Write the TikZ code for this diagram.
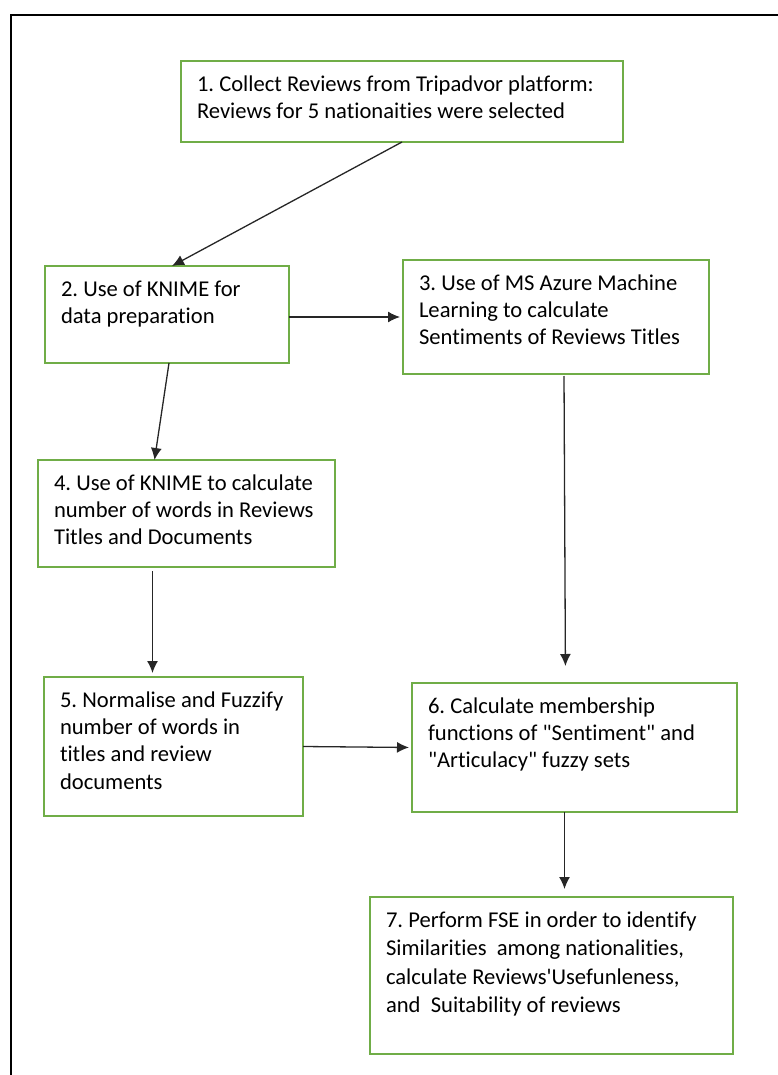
\documentclass[tikz,border=0pt]{standalone}
\usepackage{fontspec}
\setmainfont{Carlito}[Ligatures=NoCommon]
\usepackage{tikz}
\usetikzlibrary{arrows.meta}
\definecolor{boxgreen}{RGB}{112,173,71}
\tikzset{stepbox/.style={draw=boxgreen, line width=2.6pt, anchor=north west, inner xsep=16pt, inner ysep=11pt, outer sep=0pt, font=\fontsize{22.6}{27.3}\selectfont\frenchspacing},
link/.style={->, >={Latex[length=12pt, width=11pt]}, line width=1.3pt, black!85}}

\begin{document}
\begin{tikzpicture}[x=1pt, y=-1pt]
\useasboundingbox (0,0) rectangle (778,1075);
\draw[line width=2pt] (11,1075) -- (11,15) -- (778,15);
\node[stepbox] (s1) at (181,61) {\parbox[t][59pt][t]{410pt}{\strut 1. Collect Reviews from Tripadvor platform:\\Reviews for 5 nationaities were selected}};
\node[stepbox] (s2) at (45,266) {\parbox[t][75pt][t]{212pt}{\strut 2. Use of KNIME for\\data preparation}};
\node[stepbox] (s3) at (403,260) {\parbox[t][92pt][t]{274pt}{\strut 3. Use of MS Azure Machine\\Learning to calculate\\Sentiments of Reviews Titles}};
\node[stepbox] (s4) at (38,460) {\parbox[t][85pt][t]{265pt}{\strut 4. Use of KNIME to calculate\\number of words in Reviews\\Titles and Documents}};
\node[stepbox] (s5) at (44,677) {\parbox[t][117pt][t]{227pt}{\strut 5. Normalise and Fuzzify\\number of words in\\titles and review\\documents}};
\node[stepbox] (s6) at (412,683) {\parbox[t][107pt][t]{293pt}{\strut 6. Calculate membership\\functions of \textquotedbl Sentiment\textquotedbl{} and\\\textquotedbl Articulacy\textquotedbl{} fuzzy sets}};
\node[stepbox, font=\fontsize{22.6}{28.2}\selectfont\frenchspacing] (s7) at (370,897) {\parbox[t][135pt][t]{331pt}{\strut 7. Perform FSE in order to identify\\Similarities\ \ among nationalities,\\calculate Reviews\textquotesingle Usefunleness,\\and\ \ Suitability of reviews}};
% connectors
\draw[link] (s1.south) -- ([xshift=5pt]s2.north);
\draw[link, shorten >=3pt] (s3.west -| s2.east) -- (s3.west);
\draw[link] ([xshift=2pt]s2.south) -- ([xshift=-32pt]s4.north);
\draw[link, shorten <=4pt, shorten >=4pt] ([xshift=-34pt]s4.south) -- ([xshift=-34pt]s4.south |- s5.north);
\draw[link, shorten <=2pt, shorten >=17pt] ([xshift=8pt]s3.south) -- ([xshift=-9pt]s6.north);
\draw[link, shorten >=3pt] (s5.east) -- (s6.west);
\draw[link, shorten >=8pt] ([xshift=-10pt]s6.south) -- ([xshift=-10pt]s6.south |- s7.north);
\end{tikzpicture}
\end{document}
